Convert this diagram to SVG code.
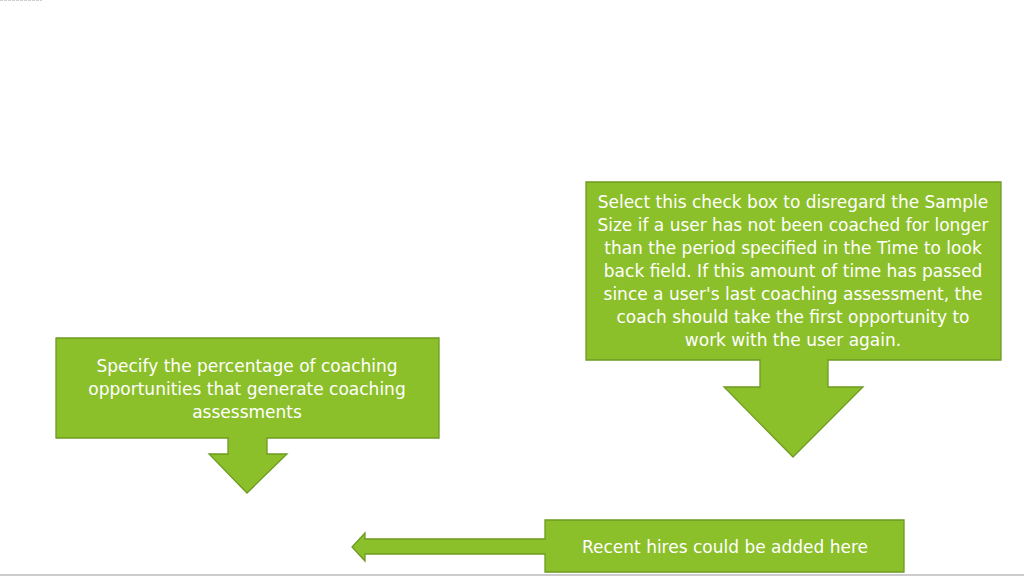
<svg xmlns="http://www.w3.org/2000/svg" width="1024" height="576" viewBox="0 0 1024 576">
<style>
.shape{fill:#8cc02a;stroke:#6e9b22;stroke-width:1.3;stroke-linejoin:miter}
.t{font-family:"DejaVu Sans","Liberation Sans",sans-serif;font-size:17px;fill:#ffffff;text-anchor:middle}
</style>
<rect width="1024" height="576" fill="#ffffff"/>
<line x1="0" y1="0.5" x2="42" y2="0.5" stroke="#d0d0d0" stroke-width="1" stroke-dasharray="3 1"/>
<line x1="0" y1="575" x2="1024" y2="575" stroke="#cccccc" stroke-width="2"/>
<g id="callout-sample-size">
<path class="shape" d="M586,182 H1001 V360 H828 V387 H863 L793,457 L724,387 H760 V360 H586 Z"/>
<text class="t" x="793" y="208">Select this check box to disregard the Sample</text>
<text class="t" x="793" y="231">Size if a user has not been coached for longer</text>
<text class="t" x="793" y="254">than the period specified in the Time to look</text>
<text class="t" x="793" y="277">back field. If this amount of time has passed</text>
<text class="t" x="793" y="300">since a user's last coaching assessment, the</text>
<text class="t" x="793" y="323">coach should take the first opportunity to</text>
<text class="t" x="793" y="346">work with the user again.</text>
</g>
<g id="callout-percentage">
<path class="shape" d="M56,338 H439 V438 H267 V454 H287 L247,493 L209,454 H228 V438 H56 Z"/>
<text class="t" x="247" y="372">Specify the percentage of coaching</text>
<text class="t" x="247" y="395">opportunities that generate coaching</text>
<text class="t" x="247" y="418">assessments</text>
</g>
<g id="callout-recent-hires">
<path class="shape" d="M545,520 H904 V572 H545 V554 H365 V561 L352,547 L365,533 V539 H545 Z"/>
<text class="t" x="725" y="553">Recent hires could be added here</text>
</g>
<g id="connectors"></g>
</svg>
